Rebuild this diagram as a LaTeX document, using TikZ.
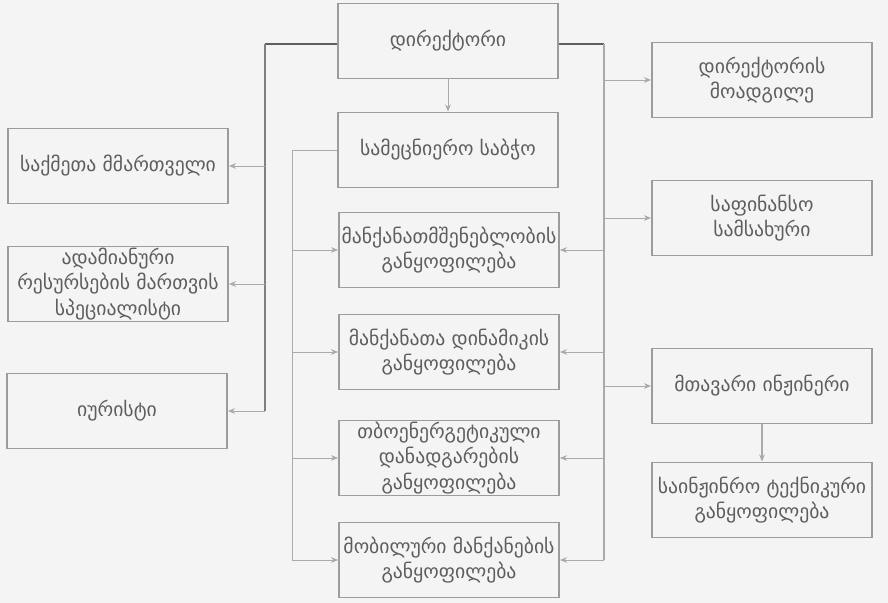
\documentclass[tikz,border=0pt]{standalone}
\usepackage{fontspec}
\setmainfont{DejaVu Sans}
\usetikzlibrary{arrows.meta,positioning}
\definecolor{bgcol}{HTML}{F4F4F4}
\definecolor{framecol}{HTML}{9C9C9C}
\definecolor{txtcol}{HTML}{5E5E5E}
\definecolor{buscol}{HTML}{AAAAAA}
\definecolor{topcol}{HTML}{5E5E5E}
\tikzset{
  orgbox/.style={draw=framecol,line width=1.4pt,fill=bgcol,text=txtcol,align=center,
    minimum width=55mm,minimum height=18.75mm,inner sep=0pt,
    font=\fontsize{14}{18}\selectfont},
  arr/.style={draw=buscol,line width=0.7pt,-{Stealth[length=5pt,width=4pt]}},
  bus/.style={draw=buscol,line width=1.4pt},
  topline/.style={draw=topcol,line width=1.1pt}
}
\begin{document}
\begin{tikzpicture}[x=0.25mm,y=-0.25mm]
  \fill[bgcol] (0,0) rectangle (888,603);
  \useasboundingbox (0,0) rectangle (888,603);
  % top and centre column
  \node[orgbox] (dir) at (448,41) {დირექტორი};
  \node[orgbox] (council) at (448,150) {სამეცნიერო საბჭო};
  \node[orgbox] (mach) at (449,250) {მანქანათმშენებლობის\\განყოფილება};
  \node[orgbox] (dyn) at (449,352) {მანქანათა დინამიკის\\განყოფილება};
  \node[orgbox] (thermo) at (449,458) {თბოენერგეტიკული\\დანადგარების\\განყოფილება};
  \node[orgbox] (mobile) at (449,560) {მობილური მანქანების\\განყოფილება};
  % left column
  \node[orgbox] (affairs) at (118,166) {საქმეთა მმართველი};
  \node[orgbox] (hr) at (118,284) {ადამიანური\\რესურსების მართვის\\სპეციალისტი};
  \node[orgbox] (lawyer) at (117,411) {იურისტი};
  % right column
  \node[orgbox] (deputy) at (762,80) {დირექტორის\\მოადგილე};
  \node[orgbox] (finance) at (762,218) {საფინანსო\\სამსახური};
  \node[orgbox] (chief) at (762,386) {მთავარი ინჟინერი};
  \node[orgbox] (tech) at (762,500) {საინჟინრო ტექნიკური\\განყოფილება};
  % bus corners
  \coordinate (lbus) at (265,44);
  \coordinate (rbus) at (604,44);
  \coordinate (cbus) at (292,150);
  % director to the left bus
  \draw[topline] (dir.west |- lbus) -- (lbus);
  \draw[bus,draw=gray] (lbus) -- (lbus |- lawyer.east);
  \foreach \t in {affairs,hr,lawyer}
    \draw[arr] (lbus |- \t.east) -- (\t.east);
  % director to the right bus
  \draw[topline] (dir.east |- rbus) -- (rbus);
  \draw[bus] (rbus) -- (rbus |- mobile.east);
  \foreach \t in {deputy,finance,chief}
    \draw[arr] (rbus |- \t.west) -- (\t.west);
  \foreach \t in {mach,dyn,thermo,mobile}
    \draw[arr] (rbus |- \t.east) -- (\t.east);
  % council to the departments
  \draw[arr,-] (council.west) -- (cbus) -- (cbus |- mobile.west);
  \foreach \t in {mach,dyn,thermo,mobile}
    \draw[arr] (cbus |- \t.west) -- (\t.west);
  % vertical links
  \draw[arr] (dir) -- (council);
  \draw[arr,line width=1.4pt] (chief) -- (tech);
\end{tikzpicture}
\end{document}
